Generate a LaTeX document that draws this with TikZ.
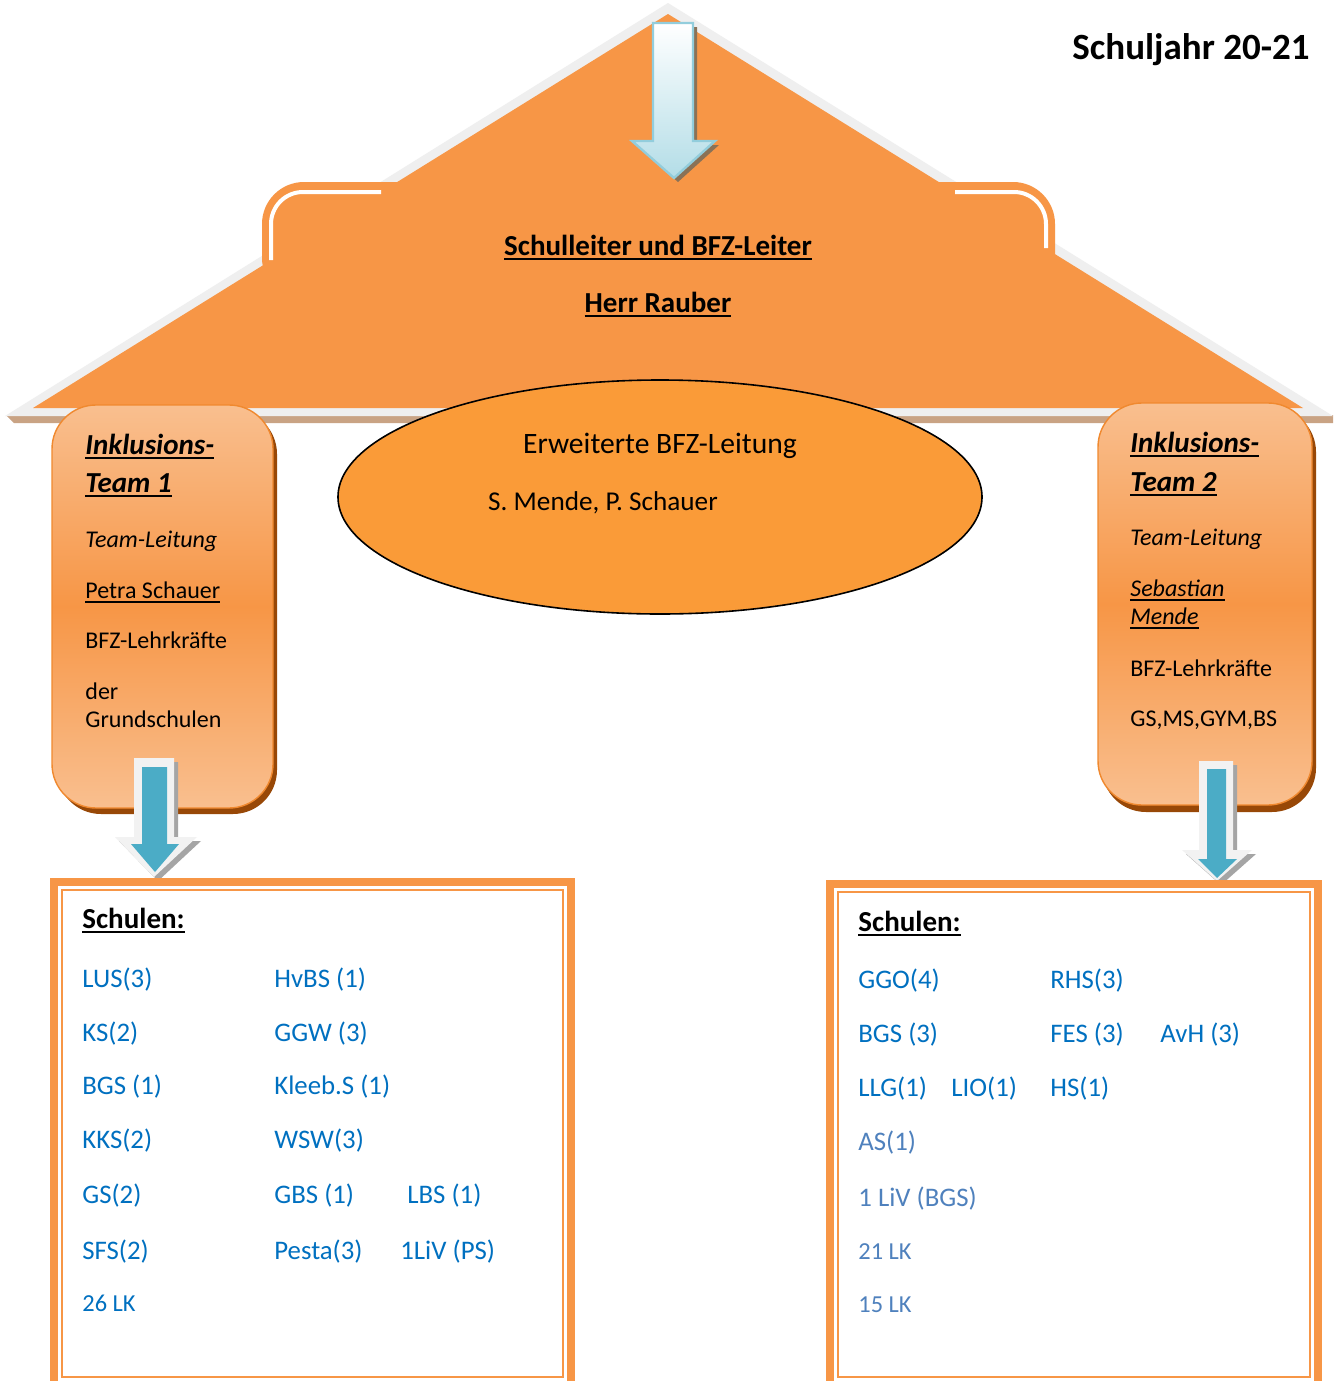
\documentclass[tikz,border=0pt]{standalone}
\usepackage{fontspec}
\setmainfont{Carlito}
\newcommand{\myul}[1]{\setbox0=\hbox{#1}\leavevmode\rlap{\vrule height -1.4pt depth 2.3pt width \wd0}\box0}
\usetikzlibrary{shapes.geometric}
\definecolor{roof}{HTML}{F79646}
\definecolor{roofedge}{HTML}{EFEFEF}
\definecolor{roofshadow}{HTML}{C9A384}
\definecolor{ellfill}{HTML}{FA9B38}
\definecolor{peach}{HTML}{F9BF8F}
\definecolor{teamedge}{HTML}{F0892F}
\definecolor{teamshadow}{HTML}{984807}
\definecolor{lblue}{HTML}{B3DDE7}
\definecolor{lbluedge}{HTML}{92CDDC}
\definecolor{arrshadow}{HTML}{8A7257}
\definecolor{blockblue}{HTML}{4BACC6}
\definecolor{arrgray}{HTML}{F2F2F2}
\definecolor{arrgshadow}{HTML}{A5A5A5}
\definecolor{sblue}{HTML}{0070C0}
\definecolor{sblueb}{HTML}{4F81BD}
\tikzset{
  txt/.style={inner sep=0pt, anchor=base west, font=\fontsize{12}{14}\selectfont},
  ctxt/.style={inner sep=0pt, anchor=base, font=\fontsize{14.5}{16}\selectfont\bfseries},
  headb/.style={inner sep=0pt, anchor=base west, font=\fontsize{14.5}{16}\selectfont\bfseries\itshape},
  schoolhd/.style={inner sep=0pt, anchor=base west, font=\fontsize{14.5}{16}\selectfont\bfseries},
  school/.style={inner sep=0pt, anchor=base west, text=sblue, font=\fontsize{13.4}{15}\selectfont},
  schoolb/.style={inner sep=0pt, anchor=base west, text=sblueb, font=\fontsize{13.4}{15}\selectfont},
  schoolc/.style={inner sep=0pt, anchor=base west, text=sblueb, font=\fontsize{12.2}{14}\selectfont},
  teamfill/.style={top color=peach, bottom color=peach, middle color=roof, draw=teamedge, line width=0.7pt},
  boxouter/.style={draw=roof, line width=4pt},
  boxinner/.style={draw=roof, line width=1pt},
}
\begin{document}
\begin{tikzpicture}[x=0.5pt,y=-0.5pt]
\clip (0,0) rectangle (1333,1381);
\fill[white] (0,0) rectangle (1333,1381);
% roof
\fill[roofshadow] (6,415) -- (1333,415) -- (1333,423) -- (14,423) -- cycle;
\fill[roofedge] (5,416) -- (668,3) -- (1333,416) -- cycle;
\fill[roof] (33,408) -- (668,14) -- (1303,408) -- cycle;
\fill[roof, rounded corners=21pt] (262,300) -- (262,182) -- (1055,182) -- (1055,300) -- cycle;
\fill[roof] (250,290) rectangle (1070,300);
\draw[white, line width=2pt, rounded corners=16pt] (271,260) -- (271,192) -- (381,192);
\draw[white, line width=2pt, rounded corners=16pt] (955,192) -- (1046,192) -- (1046,248);
% top arrow
\fill[arrshadow] (657,27) -- (697,27) -- (697,145) -- (719,145) -- (678,182) -- (636,145) -- (657,145) -- cycle;
\path[draw=lbluedge, line width=1.2pt, top color=white, bottom color=lblue] (653,23) -- (693,23) -- (693,141) -- (715,141) -- (674,178) -- (632,141) -- (653,141) -- cycle;
% titles
\node[ctxt] (sl) at (658,255) {\myul{Schulleiter und BFZ-Leiter}};
\node[ctxt] (hr) at (658,312) {\myul{Herr Rauber}};
\node[inner sep=0pt, anchor=base east, font=\fontsize{18.5}{20}\selectfont\bfseries] (sj) at (1310,59) {Schuljahr 20-21};
% ellipse
\node[ellipse, draw=black, line width=0.8pt, fill=ellfill, minimum width=322pt, minimum height=117pt, inner sep=0pt] (ell) at (660,497) {};
\node[ctxt, font=\fontsize{14.8}{16}\selectfont] (ebl) at (660,453) {Erweiterte BFZ-Leitung};
\node[ctxt, font=\fontsize{13.6}{15}\selectfont] (ebn) at (603,510) {S. Mende, P. Schauer};
% team boxes
\fill[teamshadow, rounded corners=22pt] (57,410) rectangle (277,814);
\path[teamfill, rounded corners=22pt] (52,405) rectangle (273,808);
\fill[teamshadow, rounded corners=22pt] (1102,408) rectangle (1316,812);
\path[teamfill, rounded corners=22pt] (1098,403) rectangle (1312,805);
% team 1 text
\node[headb] (t1a) at (85,454) {\myul{Inklusions-}};
\node[headb] (t1b) at (85,492) {\myul{Team 1}};
\node[txt, font=\fontsize{12}{14}\selectfont\itshape] (t1c) at (85,547) {Team-Leitung};
\node[txt] (t1d) at (85,598) {\myul{Petra Schauer}};
\node[txt] (t1e) at (85,648) {BFZ-Lehrkräfte};
\node[txt] (t1f) at (85,699) {der};
\node[txt] (t1g) at (85,727) {Grundschulen};
% team 2 text
\node[headb] (t2a) at (1130,452) {\myul{Inklusions-}};
\node[headb] (t2b) at (1130,491) {\myul{Team 2}};
\node[txt, font=\fontsize{12}{14}\selectfont\itshape] (t2c) at (1130,545) {Team-Leitung};
\node[txt, font=\fontsize{12}{14}\selectfont\itshape] (t2d) at (1130,596) {\myul{Sebastian}};
\node[txt, font=\fontsize{12}{14}\selectfont\itshape] (t2e) at (1130,624) {\myul{Mende}};
\node[txt] (t2f) at (1130,676) {BFZ-Lehrkräfte};
\node[txt] (t2g) at (1130,726) {GS,MS,GYM,BS};
% down arrows
\fill[arrgshadow] (138,762) -- (178,762) -- (178,841) -- (201,841) -- (158,881) -- (119,841) -- (138,841) -- cycle;
\fill[arrgray] (134,758) -- (174,758) -- (174,837) -- (197,837) -- (154,877) -- (115,837) -- (134,837) -- cycle;
\fill[blockblue] (142,767) -- (167,767) -- (167,844) -- (179,844) -- (155,872) -- (131,844) -- (142,844) -- cycle;
\fill[arrgshadow] (1203,765) -- (1237,765) -- (1237,854) -- (1256,854) -- (1221,885) -- (1186,854) -- (1203,854) -- cycle;
\fill[arrgray] (1199,761) -- (1233,761) -- (1233,850) -- (1252,850) -- (1217,881) -- (1182,850) -- (1199,850) -- cycle;
\fill[blockblue] (1207,769) -- (1226,769) -- (1226,859) -- (1237,859) -- (1217,878) -- (1198,859) -- (1207,859) -- cycle;
% school boxes
\draw[boxouter] (54,882) rectangle (571,1395);
\draw[boxinner] (62,890) rectangle (563,1377);
\draw[boxouter] (830,884) rectangle (1318,1395);
\draw[boxinner] (838,892) rectangle (1310,1377);
% left schools
\node[schoolhd] (s1h) at (82,928) {\myul{Schulen:}};
\node[school] (l11) at (82,987) {LUS(3)};
\node[school] (l12) at (274,987) {HvBS (1)};
\node[school] (l21) at (82,1041) {KS(2)};
\node[school] (l22) at (274,1041) {GGW (3)};
\node[school] (l31) at (82,1094) {BGS (1)};
\node[school] (l32) at (274,1094) {Kleeb.S (1)};
\node[school] (l41) at (82,1148) {KKS(2)};
\node[school] (l42) at (274,1148) {WSW(3)};
\node[school] (l51) at (82,1203) {GS(2)};
\node[school] (l52) at (274,1203) {GBS (1)};
\node[school] (l53) at (407,1203) {LBS (1)};
\node[school] (l61) at (82,1259) {SFS(2)};
\node[school] (l62) at (274,1259) {Pesta(3)};
\node[school] (l63) at (400,1259) {1LiV (PS)};
\node[school, font=\fontsize{12.2}{14}\selectfont] (l71) at (82,1311) {26 LK};
% right schools
\node[schoolhd] (s2h) at (858,931) {\myul{Schulen:}};
\node[school] (r11) at (858,988) {GGO(4)};
\node[school] (r12) at (1050,988) {RHS(3)};
\node[school] (r21) at (858,1042) {BGS (3)};
\node[school] (r22) at (1050,1042) {FES (3)};
\node[school] (r23) at (1160,1042) {AvH (3)};
\node[school] (r31) at (858,1096) {LLG(1)};
\node[school] (r32) at (951,1096) {LIO(1)};
\node[school] (r33) at (1050,1096) {HS(1)};
\node[schoolb] (r41) at (858,1150) {AS(1)};
\node[schoolb] (r51) at (858,1206) {1 LiV (BGS)};
\node[schoolc] (r61) at (858,1259) {21 LK};
\node[schoolc] (r71) at (858,1312) {15 LK};
\end{tikzpicture}
\end{document}
